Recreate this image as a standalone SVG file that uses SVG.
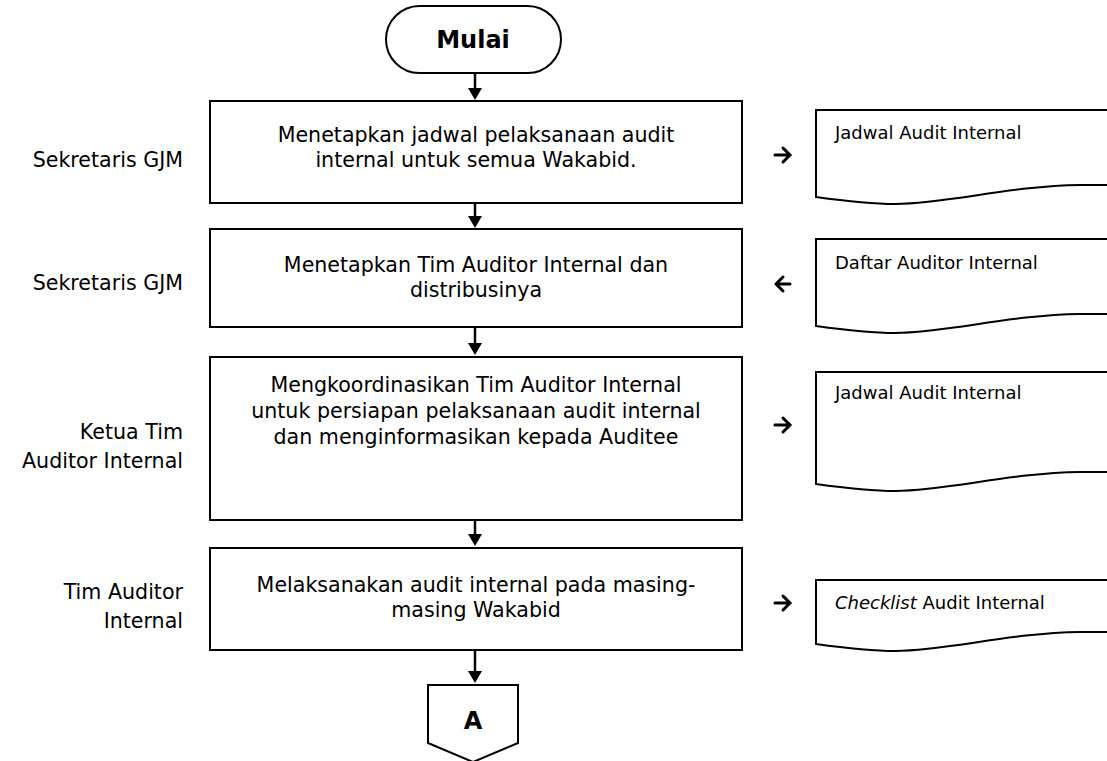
<svg xmlns="http://www.w3.org/2000/svg" width="1107" height="761" viewBox="0 0 1107 761">
<style>
.shape{fill:#fff;stroke:#000;stroke-width:2}
.t{font-family:"DejaVu Sans","Liberation Sans",sans-serif;font-size:20.6px;fill:#000}
.c{text-anchor:middle}
.r{text-anchor:end}
.d{font-family:"DejaVu Sans","Liberation Sans",sans-serif;font-size:18px;fill:#000}
.b{font-family:"DejaVu Sans","Liberation Sans",sans-serif;font-weight:bold;font-size:24px;fill:#000;text-anchor:middle}
.ln{stroke:#000;stroke-width:2.5;fill:none}
.hd{fill:#000}
.ch{stroke:#000;stroke-width:3;fill:none;stroke-linecap:round;stroke-linejoin:miter}
</style>
<rect width="1107" height="761" fill="#fff"/>
<g id="start">
<rect class="shape" x="386" y="6" width="175" height="67" rx="33.5"/>
<text class="b" x="473" y="48">Mulai</text>
</g>
<g id="step1">
<rect class="shape" x="210" y="101" width="532" height="102"/>
<text class="t c" x="476" y="142">Menetapkan jadwal pelaksanaan audit</text>
<text class="t c" x="476" y="167">internal untuk semua Wakabid.</text>
</g>
<g id="step2">
<rect class="shape" x="210" y="229" width="532" height="98"/>
<text class="t c" x="476" y="272">Menetapkan Tim Auditor Internal dan</text>
<text class="t c" x="476" y="297">distribusinya</text>
</g>
<g id="step3">
<rect class="shape" x="210" y="357" width="532" height="163"/>
<text class="t c" x="476" y="392">Mengkoordinasikan Tim Auditor Internal</text>
<text class="t c" x="476" y="418">untuk persiapan pelaksanaan audit internal</text>
<text class="t c" x="476" y="444">dan menginformasikan kepada Auditee</text>
</g>
<g id="step4">
<rect class="shape" x="210" y="548" width="532" height="102"/>
<text class="t c" x="476" y="592">Melaksanakan audit internal pada masing-</text>
<text class="t c" x="476" y="617">masing Wakabid</text>
</g>
<g id="connA">
<path class="shape" d="M428,685 H518 V743 L473,762 L428,743 Z"/>
<text class="b" x="473" y="729">A</text>
</g>
<g id="role1"><text class="t r" x="183" y="167">Sekretaris GJM</text></g>
<g id="role2"><text class="t r" x="183" y="290">Sekretaris GJM</text></g>
<g id="role3"><text class="t r" x="183" y="439">Ketua Tim</text><text class="t r" x="183" y="468">Auditor Internal</text></g>
<g id="role4"><text class="t r" x="183" y="599">Tim Auditor</text><text class="t r" x="183" y="628">Internal</text></g>
<g id="doc1">
<path class="shape" d="M1120,110 H816 V197 C845,201 870,204 895,204 C950,203 1010,186 1080,185 L1120,185"/>
<text class="d" x="835" y="139">Jadwal Audit Internal</text>
</g>
<g id="doc2">
<path class="shape" d="M1120,239 H816 V326 C845,330 870,333 895,333 C950,332 1010,315 1080,314 L1120,314"/>
<text class="d" x="835" y="269">Daftar Auditor Internal</text>
</g>
<g id="doc3">
<path class="shape" d="M1120,372 H816 V484 C845,488 870,491 895,491 C950,490 1010,473 1080,472 L1120,472"/>
<text class="d" x="835" y="399">Jadwal Audit Internal</text>
</g>
<g id="doc4">
<path class="shape" d="M1120,580 H816 V644 C845,648 870,651 895,651 C950,650 1010,633 1080,632 L1120,632"/>
<text class="d" x="835" y="609"><tspan font-style="italic">Checklist</tspan> Audit Internal</text>
</g>
<g id="connectors">
<line class="ln" x1="475" y1="74" x2="475" y2="90"/><path class="hd" d="M468,88 H482 L475,100 Z"/>
<line class="ln" x1="475" y1="204" x2="475" y2="218"/><path class="hd" d="M468,216 H482 L475,228 Z"/>
<line class="ln" x1="475" y1="328" x2="475" y2="345"/><path class="hd" d="M468,343 H482 L475,355 Z"/>
<line class="ln" x1="475" y1="521" x2="475" y2="536"/><path class="hd" d="M468,534 H482 L475,546 Z"/>
<line class="ln" x1="475" y1="651" x2="475" y2="672"/><path class="hd" d="M468,671 H482 L475,683 Z"/>
<path class="ch" d="M775,155 H789 M783,148 L790,155 L783,162"/>
<path class="ch" d="M776,284 H790 M783,277 L776,284 L783,291"/>
<path class="ch" d="M775,425 H789 M783,418 L790,425 L783,432"/>
<path class="ch" d="M775,603 H789 M783,596 L790,603 L783,610"/>
</g>
</svg>
